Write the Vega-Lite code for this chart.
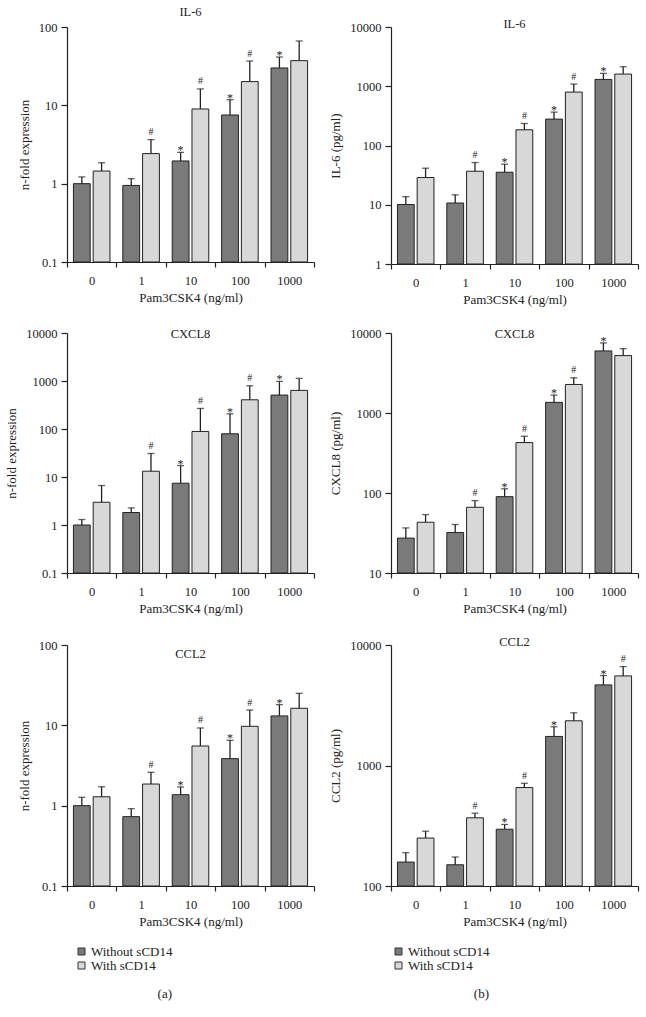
{
"$schema": "https://vega.github.io/schema/vega-lite/v6.json",
"padding": {"left": 5, "top": 6, "right": 3, "bottom": 0},
"background": "white",
"datasets": {
"main": [
{"panel":"a1","conc":"0","group":"Without sCD14","value":1.0,"upper":1.22,"sig":""},
{"panel":"a1","conc":"0","group":"With sCD14","value":1.45,"upper":1.85,"sig":""},
{"panel":"a1","conc":"1","group":"Without sCD14","value":0.95,"upper":1.16,"sig":""},
{"panel":"a1","conc":"1","group":"With sCD14","value":2.42,"upper":3.65,"sig":"#"},
{"panel":"a1","conc":"10","group":"Without sCD14","value":1.95,"upper":2.51,"sig":"*"},
{"panel":"a1","conc":"10","group":"With sCD14","value":8.98,"upper":16.2,"sig":"#"},
{"panel":"a1","conc":"100","group":"Without sCD14","value":7.53,"upper":11.8,"sig":"*"},
{"panel":"a1","conc":"100","group":"With sCD14","value":20.1,"upper":36.8,"sig":"#"},
{"panel":"a1","conc":"1000","group":"Without sCD14","value":30,"upper":41.4,"sig":"*"},
{"panel":"a1","conc":"1000","group":"With sCD14","value":37.2,"upper":66.3,"sig":""},
{"panel":"b1","conc":"0","group":"Without sCD14","value":10.1,"upper":13.7,"sig":""},
{"panel":"b1","conc":"0","group":"With sCD14","value":28.8,"upper":41.4,"sig":""},
{"panel":"b1","conc":"1","group":"Without sCD14","value":10.7,"upper":14.7,"sig":""},
{"panel":"b1","conc":"1","group":"With sCD14","value":36.8,"upper":51.6,"sig":"#"},
{"panel":"b1","conc":"10","group":"Without sCD14","value":35.4,"upper":48.4,"sig":"*"},
{"panel":"b1","conc":"10","group":"With sCD14","value":184,"upper":235,"sig":"#"},
{"panel":"b1","conc":"100","group":"Without sCD14","value":279,"upper":366,"sig":"*"},
{"panel":"b1","conc":"100","group":"With sCD14","value":797,"upper":1088,"sig":"#"},
{"panel":"b1","conc":"1000","group":"Without sCD14","value":1304,"upper":1648,"sig":"*"},
{"panel":"b1","conc":"1000","group":"With sCD14","value":1606,"upper":2137,"sig":""},
{"panel":"a2","conc":"0","group":"Without sCD14","value":1.0,"upper":1.30,"sig":""},
{"panel":"a2","conc":"0","group":"With sCD14","value":2.98,"upper":6.64,"sig":""},
{"panel":"a2","conc":"1","group":"Without sCD14","value":1.82,"upper":2.27,"sig":""},
{"panel":"a2","conc":"1","group":"With sCD14","value":13.2,"upper":30.9,"sig":"#"},
{"panel":"a2","conc":"10","group":"Without sCD14","value":7.43,"upper":17.3,"sig":"*"},
{"panel":"a2","conc":"10","group":"With sCD14","value":88.9,"upper":268,"sig":"#"},
{"panel":"a2","conc":"100","group":"Without sCD14","value":79.4,"upper":207,"sig":"*"},
{"panel":"a2","conc":"100","group":"With sCD14","value":406,"upper":797,"sig":"#"},
{"panel":"a2","conc":"1000","group":"Without sCD14","value":509,"upper":981,"sig":"*"},
{"panel":"a2","conc":"1000","group":"With sCD14","value":637,"upper":1133,"sig":""},
{"panel":"b2","conc":"0","group":"Without sCD14","value":27.3,"upper":36.6,"sig":""},
{"panel":"b2","conc":"0","group":"With sCD14","value":43.1,"upper":53.7,"sig":""},
{"panel":"b2","conc":"1","group":"Without sCD14","value":32.1,"upper":40.4,"sig":""},
{"panel":"b2","conc":"1","group":"With sCD14","value":66.3,"upper":80.3,"sig":"#"},
{"panel":"b2","conc":"10","group":"Without sCD14","value":90,"upper":113,"sig":"*"},
{"panel":"b2","conc":"10","group":"With sCD14","value":427,"upper":512,"sig":"#"},
{"panel":"b2","conc":"100","group":"Without sCD14","value":1358,"upper":1675,"sig":"*"},
{"panel":"b2","conc":"100","group":"With sCD14","value":2274,"upper":2754,"sig":"#"},
{"panel":"b2","conc":"1000","group":"Without sCD14","value":5970,"upper":7510,"sig":"*"},
{"panel":"b2","conc":"1000","group":"With sCD14","value":5220,"upper":6380,"sig":""},
{"panel":"a3","conc":"0","group":"Without sCD14","value":1.0,"upper":1.27,"sig":""},
{"panel":"a3","conc":"0","group":"With sCD14","value":1.29,"upper":1.72,"sig":""},
{"panel":"a3","conc":"1","group":"Without sCD14","value":0.73,"upper":0.918,"sig":""},
{"panel":"a3","conc":"1","group":"With sCD14","value":1.86,"upper":2.6,"sig":"#"},
{"panel":"a3","conc":"10","group":"Without sCD14","value":1.37,"upper":1.71,"sig":"*"},
{"panel":"a3","conc":"10","group":"With sCD14","value":5.53,"upper":9.27,"sig":"#"},
{"panel":"a3","conc":"100","group":"Without sCD14","value":3.85,"upper":6.51,"sig":"*"},
{"panel":"a3","conc":"100","group":"With sCD14","value":9.72,"upper":15.5,"sig":"#"},
{"panel":"a3","conc":"1000","group":"Without sCD14","value":13.1,"upper":18.1,"sig":"*"},
{"panel":"a3","conc":"1000","group":"With sCD14","value":16.3,"upper":25,"sig":""},
{"panel":"b3","conc":"0","group":"Without sCD14","value":158,"upper":189,"sig":""},
{"panel":"b3","conc":"0","group":"With sCD14","value":250,"upper":285,"sig":""},
{"panel":"b3","conc":"1","group":"Without sCD14","value":150,"upper":174,"sig":""},
{"panel":"b3","conc":"1","group":"With sCD14","value":368,"upper":402,"sig":"#"},
{"panel":"b3","conc":"10","group":"Without sCD14","value":296,"upper":324,"sig":"*"},
{"panel":"b3","conc":"10","group":"With sCD14","value":656,"upper":712,"sig":"#"},
{"panel":"b3","conc":"100","group":"Without sCD14","value":1743,"upper":2096,"sig":"*"},
{"panel":"b3","conc":"100","group":"With sCD14","value":2350,"upper":2737,"sig":""},
{"panel":"b3","conc":"1000","group":"Without sCD14","value":4667,"upper":5574,"sig":"*"},
{"panel":"b3","conc":"1000","group":"With sCD14","value":5539,"upper":6618,"sig":"#"}
],
"titles": [
{"panel":"a1","label":"IL-6"},
{"panel":"b1","label":"IL-6"},
{"panel":"a2","label":"CXCL8"},
{"panel":"b2","label":"CXCL8"},
{"panel":"a3","label":"CCL2"},
{"panel":"b3","label":"CCL2"}
]
},
"columns": 2,
"align": "each",
"spacing": {"row": 20, "column": 14},
"resolve": {"legend": {"color": "independent"}, "scale": {"y": "independent"}},
"concat": [
{
"width": 247, "height": 235,
"layer": [
{
"data": {"name": "main"},
"transform": [{"filter": "datum.panel === 'a1'"}],
"encoding": {
 "x": {"field": "conc", "type": "nominal", "sort": ["0","1","10","100","1000"], "scale": {"type": "band", "domain": ["0","1","10","100","1000"], "paddingInner": 0, "paddingOuter": 0}, "axis": {"title": "Pam3CSK4 (ng/ml)", "labelAngle": 0, "tickBand": "extent", "labelPadding": 7, "titlePadding": 5}},
 "xOffset": {"field": "group", "type": "nominal", "sort": ["Without sCD14","With sCD14"], "scale": {"paddingInner": 0.15, "paddingOuter": 0.325}},
 "y": {"field": "value", "type": "quantitative", "title": "n-fold expression", "scale": {"type": "log", "domain": [0.1, 100], "nice": false}, "axis": {"values": [0.1, 1, 10, 100], "format": "~g"}}
},
"layer": [
 {"mark": {"type": "bar", "stroke": "#222", "strokeWidth": 1}, "encoding": {"y2": {"datum": 0.1}, "color": {"field": "group", "type": "nominal", "scale": {"domain": ["Without sCD14","With sCD14"], "range": ["#7a7a7a","#d8d8d8"]}, "legend": null}}},
 {"mark": {"type": "rule", "color": "#222", "strokeWidth": 1.3}, "encoding": {"y2": {"field": "upper"}}},
 {"mark": {"type": "tick", "color": "#222", "size": 7, "thickness": 1.3}, "encoding": {"y": {"field": "upper", "type": "quantitative", "title": "n-fold expression"}}},
 {"transform": [{"filter": "datum.sig === '#'"}], "mark": {"type": "text", "dy": -4.5, "baseline": "alphabetic", "fontSize": 10, "color": "#222", "fill": "#222"}, "encoding": {"y": {"field": "upper", "type": "quantitative", "title": "n-fold expression"}, "text": {"field": "sig"}}},
 {"transform": [{"filter": "datum.sig === '*'"}], "mark": {"type": "text", "dy": 2, "baseline": "alphabetic", "fontSize": 12, "color": "#222", "fill": "#222"}, "encoding": {"y": {"field": "upper", "type": "quantitative", "title": "n-fold expression"}, "text": {"field": "sig"}}}
]
},
{
"data": {"name": "titles"},
"transform": [{"filter": "datum.panel === 'a1'"}],
"mark": {"type": "text", "fontSize": 12.5, "baseline": "middle", "dy": -15, "fill": "#222"},
"encoding": {"x": {"datum": "10", "type": "nominal"}, "y": {"datum": 100, "type": "quantitative"}, "text": {"field": "label"}}
}
]
},
{
"width": 247, "height": 237,
"layer": [
{
"data": {"name": "main"},
"transform": [{"filter": "datum.panel === 'b1'"}],
"encoding": {
 "x": {"field": "conc", "type": "nominal", "sort": ["0","1","10","100","1000"], "scale": {"type": "band", "domain": ["0","1","10","100","1000"], "paddingInner": 0, "paddingOuter": 0}, "axis": {"title": "Pam3CSK4 (ng/ml)", "labelAngle": 0, "tickBand": "extent", "labelPadding": 7, "titlePadding": 5}},
 "xOffset": {"field": "group", "type": "nominal", "sort": ["Without sCD14","With sCD14"], "scale": {"paddingInner": 0.15, "paddingOuter": 0.325}},
 "y": {"field": "value", "type": "quantitative", "title": "IL-6 (pg/ml)", "scale": {"type": "log", "domain": [1, 10000], "nice": false}, "axis": {"values": [1, 10, 100, 1000, 10000], "format": "~g"}}
},
"layer": [
 {"mark": {"type": "bar", "stroke": "#222", "strokeWidth": 1}, "encoding": {"y2": {"datum": 1}, "color": {"field": "group", "type": "nominal", "scale": {"domain": ["Without sCD14","With sCD14"], "range": ["#7a7a7a","#d8d8d8"]}, "legend": null}}},
 {"mark": {"type": "rule", "color": "#222", "strokeWidth": 1.3}, "encoding": {"y2": {"field": "upper"}}},
 {"mark": {"type": "tick", "color": "#222", "size": 7, "thickness": 1.3}, "encoding": {"y": {"field": "upper", "type": "quantitative", "title": "IL-6 (pg/ml)"}}},
 {"transform": [{"filter": "datum.sig === '#'"}], "mark": {"type": "text", "dy": -4.5, "baseline": "alphabetic", "fontSize": 10, "color": "#222", "fill": "#222"}, "encoding": {"y": {"field": "upper", "type": "quantitative", "title": "IL-6 (pg/ml)"}, "text": {"field": "sig"}}},
 {"transform": [{"filter": "datum.sig === '*'"}], "mark": {"type": "text", "dy": 2, "baseline": "alphabetic", "fontSize": 12, "color": "#222", "fill": "#222"}, "encoding": {"y": {"field": "upper", "type": "quantitative", "title": "IL-6 (pg/ml)"}, "text": {"field": "sig"}}}
]
},
{
"data": {"name": "titles"},
"transform": [{"filter": "datum.panel === 'b1'"}],
"mark": {"type": "text", "fontSize": 12.5, "baseline": "middle", "dy": -3, "fill": "#222"},
"encoding": {"x": {"datum": "10", "type": "nominal"}, "y": {"datum": 10000, "type": "quantitative"}, "text": {"field": "label"}}
}
]
},
{
"width": 247, "height": 240,
"layer": [
{
"data": {"name": "main"},
"transform": [{"filter": "datum.panel === 'a2'"}],
"encoding": {
 "x": {"field": "conc", "type": "nominal", "sort": ["0","1","10","100","1000"], "scale": {"type": "band", "domain": ["0","1","10","100","1000"], "paddingInner": 0, "paddingOuter": 0}, "axis": {"title": "Pam3CSK4 (ng/ml)", "labelAngle": 0, "tickBand": "extent", "labelPadding": 7, "titlePadding": 5}},
 "xOffset": {"field": "group", "type": "nominal", "sort": ["Without sCD14","With sCD14"], "scale": {"paddingInner": 0.15, "paddingOuter": 0.325}},
 "y": {"field": "value", "type": "quantitative", "title": "n-fold expression", "scale": {"type": "log", "domain": [0.1, 10000], "nice": false}, "axis": {"values": [0.1, 1, 10, 100, 1000, 10000], "format": "~g"}}
},
"layer": [
 {"mark": {"type": "bar", "stroke": "#222", "strokeWidth": 1}, "encoding": {"y2": {"datum": 0.1}, "color": {"field": "group", "type": "nominal", "scale": {"domain": ["Without sCD14","With sCD14"], "range": ["#7a7a7a","#d8d8d8"]}, "legend": null}}},
 {"mark": {"type": "rule", "color": "#222", "strokeWidth": 1.3}, "encoding": {"y2": {"field": "upper"}}},
 {"mark": {"type": "tick", "color": "#222", "size": 7, "thickness": 1.3}, "encoding": {"y": {"field": "upper", "type": "quantitative", "title": "n-fold expression"}}},
 {"transform": [{"filter": "datum.sig === '#'"}], "mark": {"type": "text", "dy": -4.5, "baseline": "alphabetic", "fontSize": 10, "color": "#222", "fill": "#222"}, "encoding": {"y": {"field": "upper", "type": "quantitative", "title": "n-fold expression"}, "text": {"field": "sig"}}},
 {"transform": [{"filter": "datum.sig === '*'"}], "mark": {"type": "text", "dy": 2, "baseline": "alphabetic", "fontSize": 12, "color": "#222", "fill": "#222"}, "encoding": {"y": {"field": "upper", "type": "quantitative", "title": "n-fold expression"}, "text": {"field": "sig"}}}
]
},
{
"data": {"name": "titles"},
"transform": [{"filter": "datum.panel === 'a2'"}],
"mark": {"type": "text", "fontSize": 12.5, "baseline": "middle", "dy": 1, "fill": "#222"},
"encoding": {"x": {"datum": "10", "type": "nominal"}, "y": {"datum": 10000, "type": "quantitative"}, "text": {"field": "label"}}
}
]
},
{
"width": 247, "height": 240,
"layer": [
{
"data": {"name": "main"},
"transform": [{"filter": "datum.panel === 'b2'"}],
"encoding": {
 "x": {"field": "conc", "type": "nominal", "sort": ["0","1","10","100","1000"], "scale": {"type": "band", "domain": ["0","1","10","100","1000"], "paddingInner": 0, "paddingOuter": 0}, "axis": {"title": "Pam3CSK4 (ng/ml)", "labelAngle": 0, "tickBand": "extent", "labelPadding": 7, "titlePadding": 5}},
 "xOffset": {"field": "group", "type": "nominal", "sort": ["Without sCD14","With sCD14"], "scale": {"paddingInner": 0.15, "paddingOuter": 0.325}},
 "y": {"field": "value", "type": "quantitative", "title": "CXCL8 (pg/ml)", "scale": {"type": "log", "domain": [10, 10000], "nice": false}, "axis": {"values": [10, 100, 1000, 10000], "format": "~g"}}
},
"layer": [
 {"mark": {"type": "bar", "stroke": "#222", "strokeWidth": 1}, "encoding": {"y2": {"datum": 10}, "color": {"field": "group", "type": "nominal", "scale": {"domain": ["Without sCD14","With sCD14"], "range": ["#7a7a7a","#d8d8d8"]}, "legend": null}}},
 {"mark": {"type": "rule", "color": "#222", "strokeWidth": 1.3}, "encoding": {"y2": {"field": "upper"}}},
 {"mark": {"type": "tick", "color": "#222", "size": 7, "thickness": 1.3}, "encoding": {"y": {"field": "upper", "type": "quantitative", "title": "CXCL8 (pg/ml)"}}},
 {"transform": [{"filter": "datum.sig === '#'"}], "mark": {"type": "text", "dy": -4.5, "baseline": "alphabetic", "fontSize": 10, "color": "#222", "fill": "#222"}, "encoding": {"y": {"field": "upper", "type": "quantitative", "title": "CXCL8 (pg/ml)"}, "text": {"field": "sig"}}},
 {"transform": [{"filter": "datum.sig === '*'"}], "mark": {"type": "text", "dy": 2, "baseline": "alphabetic", "fontSize": 12, "color": "#222", "fill": "#222"}, "encoding": {"y": {"field": "upper", "type": "quantitative", "title": "CXCL8 (pg/ml)"}, "text": {"field": "sig"}}}
]
},
{
"data": {"name": "titles"},
"transform": [{"filter": "datum.panel === 'b2'"}],
"mark": {"type": "text", "fontSize": 12.5, "baseline": "middle", "dy": 1, "fill": "#222"},
"encoding": {"x": {"datum": "10", "type": "nominal"}, "y": {"datum": 10000, "type": "quantitative"}, "text": {"field": "label"}}
}
]
},
{
"width": 247, "height": 241,
"layer": [
{
"data": {"name": "main"},
"transform": [{"filter": "datum.panel === 'a3'"}],
"encoding": {
 "x": {"field": "conc", "type": "nominal", "sort": ["0","1","10","100","1000"], "scale": {"type": "band", "domain": ["0","1","10","100","1000"], "paddingInner": 0, "paddingOuter": 0}, "axis": {"title": "Pam3CSK4 (ng/ml)", "labelAngle": 0, "tickBand": "extent", "labelPadding": 7, "titlePadding": 5}},
 "xOffset": {"field": "group", "type": "nominal", "sort": ["Without sCD14","With sCD14"], "scale": {"paddingInner": 0.15, "paddingOuter": 0.325}},
 "y": {"field": "value", "type": "quantitative", "title": "n-fold expression", "scale": {"type": "log", "domain": [0.1, 100], "nice": false}, "axis": {"values": [0.1, 1, 10, 100], "format": "~g"}}
},
"layer": [
 {"mark": {"type": "bar", "stroke": "#222", "strokeWidth": 1}, "encoding": {"y2": {"datum": 0.1}, "color": {"field": "group", "type": "nominal", "scale": {"domain": ["Without sCD14","With sCD14"], "range": ["#7a7a7a","#d8d8d8"]}, "legend": {"orient": "none", "legendX": 8, "legendY": 300, "title": "(a)", "titleOrient": "bottom", "titleAnchor": "end", "direction": "vertical", "symbolType": "square", "symbolSize": 49, "symbolStrokeColor": "#333", "symbolStrokeWidth": 1, "labelFont": "Liberation Serif", "labelFontSize": 13, "labelColor": "#222", "labelOffset": 3, "titleFont": "Liberation Serif", "titleFontSize": 13, "titleFontWeight": "normal", "titleColor": "#222", "titlePadding": 15, "rowPadding": 0}}}},
 {"mark": {"type": "rule", "color": "#222", "strokeWidth": 1.3}, "encoding": {"y2": {"field": "upper"}}},
 {"mark": {"type": "tick", "color": "#222", "size": 7, "thickness": 1.3}, "encoding": {"y": {"field": "upper", "type": "quantitative", "title": "n-fold expression"}}},
 {"transform": [{"filter": "datum.sig === '#'"}], "mark": {"type": "text", "dy": -4.5, "baseline": "alphabetic", "fontSize": 10, "color": "#222", "fill": "#222"}, "encoding": {"y": {"field": "upper", "type": "quantitative", "title": "n-fold expression"}, "text": {"field": "sig"}}},
 {"transform": [{"filter": "datum.sig === '*'"}], "mark": {"type": "text", "dy": 2, "baseline": "alphabetic", "fontSize": 12, "color": "#222", "fill": "#222"}, "encoding": {"y": {"field": "upper", "type": "quantitative", "title": "n-fold expression"}, "text": {"field": "sig"}}}
]
},
{
"data": {"name": "titles"},
"transform": [{"filter": "datum.panel === 'a3'"}],
"mark": {"type": "text", "fontSize": 12.5, "baseline": "middle", "dy": 9, "fill": "#222"},
"encoding": {"x": {"datum": "10", "type": "nominal"}, "y": {"datum": 100, "type": "quantitative"}, "text": {"field": "label"}}
}
]
},
{
"width": 247, "height": 241,
"layer": [
{
"data": {"name": "main"},
"transform": [{"filter": "datum.panel === 'b3'"}],
"encoding": {
 "x": {"field": "conc", "type": "nominal", "sort": ["0","1","10","100","1000"], "scale": {"type": "band", "domain": ["0","1","10","100","1000"], "paddingInner": 0, "paddingOuter": 0}, "axis": {"title": "Pam3CSK4 (ng/ml)", "labelAngle": 0, "tickBand": "extent", "labelPadding": 7, "titlePadding": 5}},
 "xOffset": {"field": "group", "type": "nominal", "sort": ["Without sCD14","With sCD14"], "scale": {"paddingInner": 0.15, "paddingOuter": 0.325}},
 "y": {"field": "value", "type": "quantitative", "title": "CCL2 (pg/ml)", "scale": {"type": "log", "domain": [100, 10000], "nice": false}, "axis": {"values": [100, 1000, 10000], "format": "~g"}}
},
"layer": [
 {"mark": {"type": "bar", "stroke": "#222", "strokeWidth": 1}, "encoding": {"y2": {"datum": 100}, "color": {"field": "group", "type": "nominal", "scale": {"domain": ["Without sCD14","With sCD14"], "range": ["#7a7a7a","#d8d8d8"]}, "legend": {"orient": "none", "legendX": 1, "legendY": 300, "title": "(b)", "titleOrient": "bottom", "titleAnchor": "end", "direction": "vertical", "symbolType": "square", "symbolSize": 49, "symbolStrokeColor": "#333", "symbolStrokeWidth": 1, "labelFont": "Liberation Serif", "labelFontSize": 13, "labelColor": "#222", "labelOffset": 3, "titleFont": "Liberation Serif", "titleFontSize": 13, "titleFontWeight": "normal", "titleColor": "#222", "titlePadding": 15, "rowPadding": 0}}}},
 {"mark": {"type": "rule", "color": "#222", "strokeWidth": 1.3}, "encoding": {"y2": {"field": "upper"}}},
 {"mark": {"type": "tick", "color": "#222", "size": 7, "thickness": 1.3}, "encoding": {"y": {"field": "upper", "type": "quantitative", "title": "CCL2 (pg/ml)"}}},
 {"transform": [{"filter": "datum.sig === '#'"}], "mark": {"type": "text", "dy": -4.5, "baseline": "alphabetic", "fontSize": 10, "color": "#222", "fill": "#222"}, "encoding": {"y": {"field": "upper", "type": "quantitative", "title": "CCL2 (pg/ml)"}, "text": {"field": "sig"}}},
 {"transform": [{"filter": "datum.sig === '*'"}], "mark": {"type": "text", "dy": 2, "baseline": "alphabetic", "fontSize": 12, "color": "#222", "fill": "#222"}, "encoding": {"y": {"field": "upper", "type": "quantitative", "title": "CCL2 (pg/ml)"}, "text": {"field": "sig"}}}
]
},
{
"data": {"name": "titles"},
"transform": [{"filter": "datum.panel === 'b3'"}],
"mark": {"type": "text", "fontSize": 12.5, "baseline": "middle", "dy": -3, "fill": "#222"},
"encoding": {"x": {"datum": "10", "type": "nominal"}, "y": {"datum": 10000, "type": "quantitative"}, "text": {"field": "label"}}
}
]
}
],
"config": {
 "font": "Liberation Serif",
 "view": {"stroke": null},
 "axis": {"labelFont": "Liberation Serif", "labelFontSize": 12.5, "titleFont": "Liberation Serif", "titleFontSize": 13, "titleFontWeight": "normal", "domainColor": "#222", "tickColor": "#222", "labelColor": "#222", "titleColor": "#222", "grid": false, "tickSize": 5, "domainWidth": 1.2, "tickWidth": 1.2},
 "axisY": {"tickSize": 6, "labelPadding": 4, "titlePadding": 7}
}
}
